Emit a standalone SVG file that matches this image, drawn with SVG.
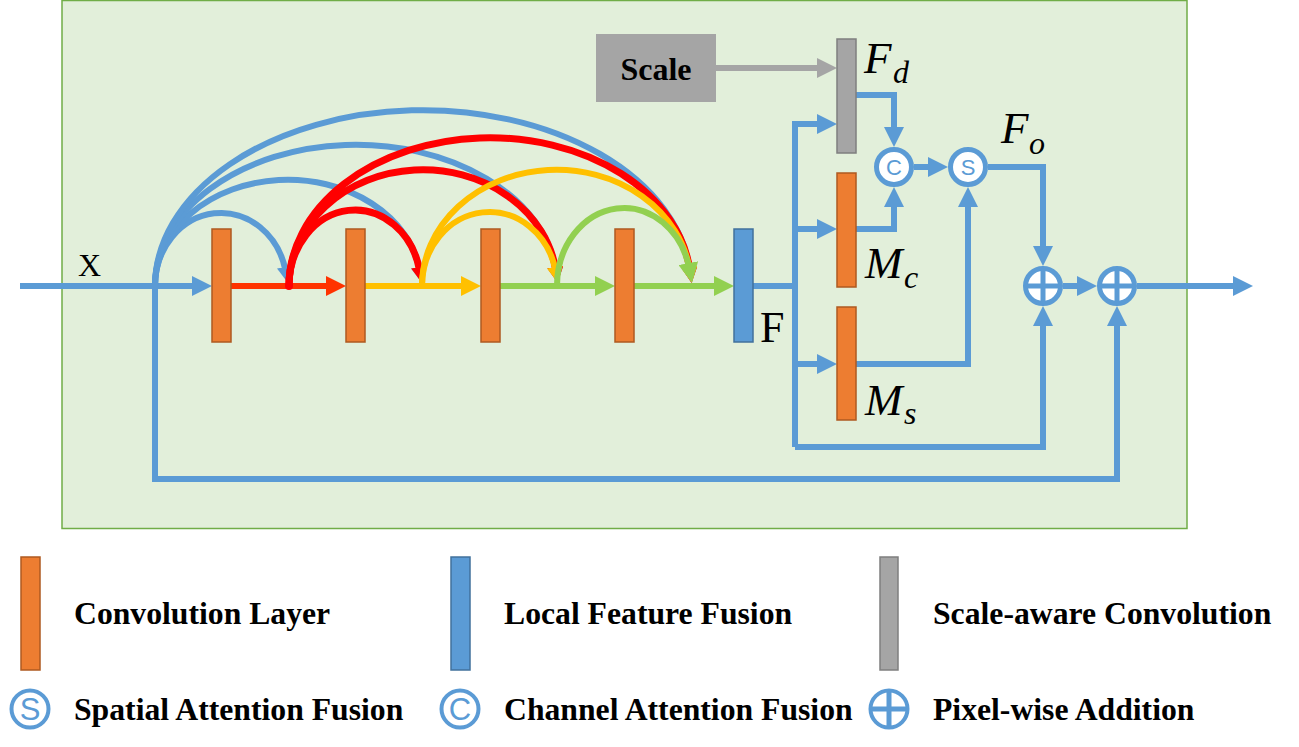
<svg xmlns="http://www.w3.org/2000/svg" width="1299" height="747" viewBox="0 0 1299 747">
<style>
.bl{fill:none;stroke:#5B9BD5;stroke-width:6;stroke-linejoin:miter}
.ro{fill:none;stroke:#FF3300;stroke-width:6}
.ye{fill:none;stroke:#FFC000;stroke-width:6}
.gr{fill:none;stroke:#92D050;stroke-width:6}
.gy{fill:none;stroke:#A5A5A5;stroke-width:6}
.arcB{fill:none;stroke:#5B9BD5;stroke-width:6}
.arcR{fill:none;stroke:#FF0000;stroke-width:7}
.arcY{fill:none;stroke:#FFC000;stroke-width:6}
.arcG{fill:none;stroke:#92D050;stroke-width:6}
.conv{fill:#ED7D31;stroke:#AE5A21;stroke-width:1.5}
.lff{fill:#5B9BD5;stroke:#41719C;stroke-width:1.5}
.sac{fill:#A5A5A5;stroke:#7F7F7F;stroke-width:1.5}
.ring{fill:#FFFFFF;stroke:#5B9BD5;stroke-width:5}
.cross{stroke:#5B9BD5;stroke-width:5}
.sym{font-family:"Liberation Sans",Arial,sans-serif;fill:#5B9BD5;text-anchor:middle}
.leg{font-family:"Liberation Serif","Times New Roman",serif;font-weight:bold;font-size:31.7px;fill:#000}
.math{font-family:"Liberation Serif","Times New Roman",serif;font-style:italic;fill:#000}
.roman{font-family:"Liberation Serif","Times New Roman",serif;fill:#000}
</style>
<defs>
<marker id="aB" markerUnits="userSpaceOnUse" markerWidth="20" markerHeight="20" refX="6" refY="10" orient="auto"><path d="M0,0 L20,10 L0,20 z" fill="#5B9BD5"/></marker>
<marker id="aRO" markerUnits="userSpaceOnUse" markerWidth="20" markerHeight="20" refX="6" refY="10" orient="auto"><path d="M0,0 L20,10 L0,20 z" fill="#FF3300"/></marker>
<marker id="aY" markerUnits="userSpaceOnUse" markerWidth="20" markerHeight="20" refX="6" refY="10" orient="auto"><path d="M0,0 L20,10 L0,20 z" fill="#FFC000"/></marker>
<marker id="aG" markerUnits="userSpaceOnUse" markerWidth="20" markerHeight="20" refX="6" refY="10" orient="auto"><path d="M0,0 L20,10 L0,20 z" fill="#92D050"/></marker>
<marker id="aGy" markerUnits="userSpaceOnUse" markerWidth="20" markerHeight="20" refX="6" refY="10" orient="auto"><path d="M0,0 L20,10 L0,20 z" fill="#A5A5A5"/></marker>
<marker id="sB" markerUnits="userSpaceOnUse" markerWidth="16" markerHeight="16" refX="4" refY="8" orient="auto"><path d="M0,0 L16,8 L0,16 z" fill="#5B9BD5"/></marker>
<marker id="sR" markerUnits="userSpaceOnUse" markerWidth="16" markerHeight="16" refX="4" refY="8" orient="auto"><path d="M0,0 L16,8 L0,16 z" fill="#FF0000"/></marker>
<marker id="sY" markerUnits="userSpaceOnUse" markerWidth="16" markerHeight="16" refX="4" refY="8" orient="auto"><path d="M0,0 L16,8 L0,16 z" fill="#FFC000"/></marker>
<marker id="sG" markerUnits="userSpaceOnUse" markerWidth="20" markerHeight="20" refX="6" refY="10" orient="auto"><path d="M0,0 L20,10 L0,20 z" fill="#92D050"/></marker>
</defs>

<rect id="background" x="62" y="0.5" width="1125" height="528" fill="#E2EFDA" stroke="#70AD47" stroke-width="1.5"/>

<g id="connectors">
  <path class="bl" d="M20 286 H198" marker-end="url(#aB)"/>
  <path class="ro" d="M231 286 H332" marker-end="url(#aRO)"/>
  <path class="ye" d="M365 286 H467" marker-end="url(#aY)"/>
  <path class="gr" d="M500 286 H601" marker-end="url(#aG)"/>
  <path class="gr" d="M634 286 H720" marker-end="url(#aG)"/>
  <path class="bl" d="M753 286 H795"/>
  <path class="bl" d="M155 286 V479 H1117 V320" marker-end="url(#aB)"/>
  <path class="arcB" d="M155 286 A66 73 0 0 1 285.6 271" marker-end="url(#sB)"/>
  <path class="arcB" d="M155 286 A133 106 0 0 1 419.7 271" marker-end="url(#sB)"/>
  <path class="arcB" d="M155 286 A201 141 0 0 1 555.9 271" marker-end="url(#sB)"/>
  <path class="arcB" d="M155 286 A268 176 0 0 1 690 271" marker-end="url(#sB)"/>
  <circle cx="289" cy="286" r="4" fill="#FF0000"/>
  <path class="arcR" d="M289 286 A66 76 0 0 1 419.7 271" marker-end="url(#sR)"/>
  <path class="arcR" d="M289 286 A134 116 0 0 1 555.9 271" marker-end="url(#sR)"/>
  <path class="arcR" d="M289 286 A201 148 0 0 1 690 271" marker-end="url(#sR)"/>
  <path class="arcY" d="M422 286 A67.5 74 0 0 1 555.6 271" marker-end="url(#sY)"/>
  <path class="arcY" d="M422 286 A134.5 116 0 0 1 689.9 271" marker-end="url(#sY)"/>
  <path class="arcG" d="M557 286 A67 78 0 0 1 689.4 269" marker-end="url(#sG)"/>
  <path class="gy" d="M716 68 H823" marker-end="url(#aGy)"/>
  <path class="bl" d="M795 447 V124 H823" marker-end="url(#aB)"/>
  <path class="bl" d="M795 229 H823" marker-end="url(#aB)"/>
  <path class="bl" d="M795 364 H823" marker-end="url(#aB)"/>
  <path class="bl" d="M795 447 H1043 V320" marker-end="url(#aB)"/>
  <path class="bl" d="M856 95 H894 V133" marker-end="url(#aB)"/>
  <path class="bl" d="M856 229 H894 V201" marker-end="url(#aB)"/>
  <path class="bl" d="M914 167 H934" marker-end="url(#aB)"/>
  <path class="bl" d="M856 364 H968 V201" marker-end="url(#aB)"/>
  <path class="bl" d="M988 167 H1043 V252" marker-end="url(#aB)"/>
  <path class="bl" d="M1063 286 H1083" marker-end="url(#aB)"/>
  <path class="bl" d="M1137 286 H1239" marker-end="url(#aB)"/>
</g>

<g id="input-label"><text class="roman" x="78" y="276" font-size="32">X</text></g>
<g id="conv1"><rect class="conv" x="212" y="229" width="19" height="113"/></g>
<g id="conv2"><rect class="conv" x="346" y="229" width="19" height="113"/></g>
<g id="conv3"><rect class="conv" x="481" y="229" width="19" height="113"/></g>
<g id="conv4"><rect class="conv" x="615" y="229" width="19" height="113"/></g>
<g id="lff"><rect class="lff" x="734" y="229" width="19" height="113"/><text class="roman" x="760" y="342" font-size="44">F</text></g>
<g id="scale"><rect x="596" y="34" width="120" height="68" fill="#A5A5A5"/><text x="656" y="80" font-family="Liberation Serif,Times New Roman,serif" font-weight="bold" font-size="32" text-anchor="middle" fill="#000">Scale</text></g>
<g id="Fd"><rect class="sac" x="837" y="39" width="19" height="114"/><text class="math" x="864" y="73" font-size="45">F</text><text class="math" x="893" y="83" font-size="32">d</text></g>
<g id="Mc"><rect class="conv" x="837" y="173" width="19" height="114"/><text class="math" x="865" y="278" font-size="45">M</text><text class="math" x="904" y="288" font-size="32">c</text></g>
<g id="Ms"><rect class="conv" x="837" y="307" width="19" height="113"/><text class="math" x="865" y="415" font-size="45">M</text><text class="math" x="904" y="424" font-size="32">s</text></g>
<g id="cfuse"><circle class="ring" cx="894" cy="167" r="17.5"/><text class="sym" x="894" y="175" font-size="22">C</text></g>
<g id="sfuse"><circle class="ring" cx="968" cy="167" r="17.5"/><text class="sym" x="968" y="175" font-size="22">S</text></g>
<g id="Fo-label"><text class="math" x="1001" y="143" font-size="45">F</text><text class="math" x="1029" y="154" font-size="32">o</text></g>
<g id="add1"><circle class="ring" cx="1043" cy="286" r="17.5"/><path class="cross" d="M1025.5 286 H1060.5 M1043 268.5 V303.5"/></g>
<g id="add2"><circle class="ring" cx="1117" cy="286" r="17.5"/><path class="cross" d="M1099.5 286 H1134.5 M1117 268.5 V303.5"/></g>

<g id="legend">
  <rect class="conv" x="21" y="557" width="19" height="113"/>
  <text class="leg" x="74" y="624">Convolution Layer</text>
  <rect class="lff" x="451" y="557" width="19" height="113"/>
  <text class="leg" x="504" y="624">Local Feature Fusion</text>
  <rect class="sac" x="880" y="557" width="18" height="113"/>
  <text class="leg" x="933" y="624">Scale-aware Convolution</text>
  <circle cx="30" cy="709" r="18.5" fill="#FFFFFF" stroke="#5B9BD5" stroke-width="4"/>
  <text class="sym" x="30" y="720" font-size="31">S</text>
  <text class="leg" x="74" y="720">Spatial Attention Fusion</text>
  <circle cx="460" cy="709" r="18.5" fill="#FFFFFF" stroke="#5B9BD5" stroke-width="4"/>
  <text class="sym" x="460" y="720" font-size="31">C</text>
  <text class="leg" x="504" y="720">Channel Attention Fusion</text>
  <circle cx="889" cy="709" r="18.5" fill="#FFFFFF" stroke="#5B9BD5" stroke-width="4"/>
  <path class="cross" stroke-width="4" d="M870.5 709 H907.5 M889 690.5 V727.5"/>
  <text class="leg" x="933" y="720">Pixel-wise Addition</text>
</g>
</svg>
